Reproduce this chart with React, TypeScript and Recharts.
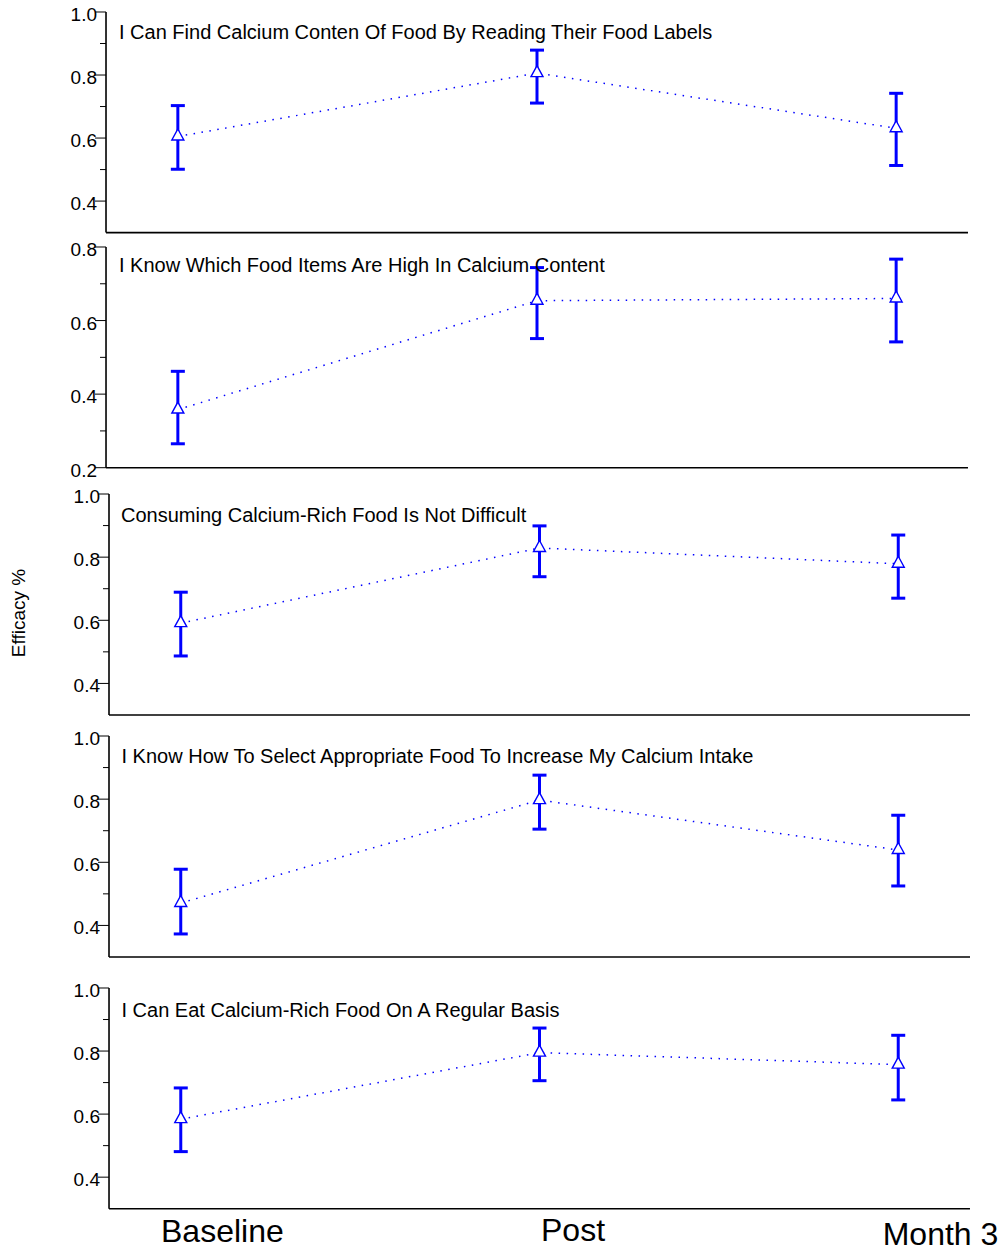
import { ComposedChart, Line, XAxis, YAxis, ErrorBar } from "recharts";

const FONT = "Arial, 'Liberation Sans', Helvetica, sans-serif";
const BLUE = "#0000ff";

// stages along the x axis
const STAGES = ["Baseline", "Post", "Month 3"];
const STAGE_X = [0, 1, 2];
const X_TICKS = [0, 0.4, 0.8, 1.2, 1.6, 2.0];

const TITLES = [
  "I Can Find Calcium Conten Of Food By Reading Their Food Labels",
  "I Know Which Food Items Are High In Calcium Content",
  "Consuming Calcium-Rich Food Is Not Difficult",
  "I Know How To Select Appropriate Food To Increase My Calcium Intake",
  "I Can Eat Calcium-Rich Food On A Regular Basis",
];

// mean, lower and upper bound of each item, per stage
const MEAN_1 = [0.605, 0.806, 0.631];
const LOW_1 = [0.501, 0.711, 0.513];
const HIGH_1 = [0.703, 0.879, 0.742];

const MEAN_2 = [0.358, 0.654, 0.66];
const LOW_2 = [0.265, 0.551, 0.542];
const HIGH_2 = [0.462, 0.744, 0.767];

const MEAN_3 = [0.591, 0.829, 0.779];
const LOW_3 = [0.487, 0.738, 0.67];
const HIGH_3 = [0.689, 0.899, 0.87];

const MEAN_4 = [0.471, 0.797, 0.639];
const LOW_4 = [0.373, 0.705, 0.525];
const HIGH_4 = [0.578, 0.876, 0.749];

const MEAN_5 = [0.584, 0.795, 0.757];
const LOW_5 = [0.481, 0.706, 0.645];
const HIGH_5 = [0.683, 0.873, 0.85];

const TICKS_A = [0.4, 0.5, 0.6, 0.7, 0.8, 0.9, 1.0];
const TICKS_B = [0.2, 0.3, 0.4, 0.5, 0.6, 0.7, 0.8];

const SERIES = [
  [MEAN_1, LOW_1, HIGH_1],
  [MEAN_2, LOW_2, HIGH_2],
  [MEAN_3, LOW_3, HIGH_3],
  [MEAN_4, LOW_4, HIGH_4],
  [MEAN_5, LOW_5, HIGH_5],
];

// plot-area placement of each panel on the page
const PANELS = [
  { top: 11.7, bottom: 232.3, axisX: 106, right: 968, domain: [0.3, 1.0], ticks: TICKS_A, titleX: 119, titleY: 39.3 },
  { top: 247.3, bottom: 468, axisX: 106, right: 968, domain: [0.2, 0.8], ticks: TICKS_B, titleX: 119, titleY: 271.7 },
  { top: 494, bottom: 715, axisX: 109, right: 970, domain: [0.3, 1.0], ticks: TICKS_A, titleX: 121, titleY: 522 },
  { top: 735.7, bottom: 956.7, axisX: 109, right: 970, domain: [0.3, 1.0], ticks: TICKS_A, titleX: 121.5, titleY: 762.7 },
  { top: 988.3, bottom: 1209, axisX: 109, right: 970, domain: [0.3, 1.0], ticks: TICKS_A, titleX: 121.5, titleY: 1016.7 },
];

const STAGE_LABELS = [
  { x: 161, y: 1241.7 },
  { x: 541, y: 1241 },
  { x: 882.7, y: 1245 },
];

const PAD_T = 14;
const PAD_B = 16;

function makeYTick(axisX: number) {
  return (props: any) => {
    const { y, payload } = props;
    const v = payload.value as number;
    const major = Math.round(v * 10) % 2 === 0;
    return (
      <g>
        <line x1={axisX - (major ? 11 : 6)} x2={axisX} y1={y} y2={y} stroke="#000" strokeWidth={1} />
        {major && (
          <text
            x={axisX - 9}
            y={y + 9}
            textAnchor="end"
            fontFamily={FONT}
            fill="#000"
            style={{ fontSize: 19 }}
          >
            {v.toFixed(1)}
          </text>
        )}
      </g>
    );
  };
}

function renderTri(props: any) {
  const { cx, cy, index } = props;
  if (cx == null || cy == null) return <g key={`t${index}`} />;
  const d = `M${cx},${cy - 7.5} L${cx + 6},${cy + 3.5} L${cx - 6},${cy + 3.5} Z`;
  return <path key={`t${index}`} d={d} fill="#fff" stroke={BLUE} strokeWidth={1.4} />;
}

function Panel({ idx }: { idx: number }) {
  const p = PANELS[idx];
  const [mean, low, high] = SERIES[idx];
  const rows = STAGE_X.map((x, i) => ({
    x,
    stage: STAGES[i],
    mean: mean[i],
    err: [mean[i] - low[i], high[i] - mean[i]],
  }));
  const h = p.bottom - p.top + PAD_T + PAD_B;
  return (
    <div style={{ position: "absolute", left: 0, top: p.top - PAD_T }}>
      <ComposedChart
        width={1006}
        height={h}
        data={rows}
        margin={{ top: PAD_T, right: 1006 - p.right, bottom: PAD_B - 1, left: 0 }}
      >
        <XAxis
          type="number"
          dataKey="x"
          domain={[-0.2, 2.2]}
          ticks={X_TICKS}
          allowDataOverflow
          height={1}
          tick={false}
          tickSize={2}
          tickLine={{ stroke: "#000", strokeWidth: 1 }}
          axisLine={{ stroke: "#000", strokeWidth: 1.6 }}
        />
        <YAxis
          type="number"
          width={p.axisX}
          domain={p.domain}
          ticks={p.ticks}
          interval={0}
          allowDataOverflow
          tickLine={false}
          tick={makeYTick(p.axisX)}
          axisLine={{ stroke: "#000", strokeWidth: 1.6 }}
        />
        <Line
          type="linear"
          dataKey="mean"
          stroke={BLUE}
          strokeWidth={1.5}
          strokeDasharray="1.5 6.5"
          dot={renderTri}
          activeDot={false}
          isAnimationActive={false}
        >
          <ErrorBar dataKey="err" width={7} strokeWidth={3} stroke={BLUE} isAnimationActive={false} />
        </Line>
      </ComposedChart>
    </div>
  );
}

export default function App() {
  return (
    <div style={{ position: "absolute", left: 0, top: 0, width: 1006, height: 1253, background: "#fff" }}>
      {PANELS.map((_, i) => (
        <Panel key={i} idx={i} />
      ))}
      <svg
        width={1006}
        height={1253}
        style={{ position: "absolute", left: 0, top: 0, pointerEvents: "none" }}
      >
        {PANELS.map((p, i) => (
          <text key={i} x={p.titleX} y={p.titleY} fontFamily={FONT} fill="#000" style={{ fontSize: 20 }}>
            {TITLES[i]}
          </text>
        ))}
        {STAGES.map((s, i) => (
          <text
            key={s}
            x={STAGE_LABELS[i].x}
            y={STAGE_LABELS[i].y}
            fontFamily={FONT}
            fill="#000"
            style={{ fontSize: 32 }}
          >
            {s}
          </text>
        ))}
        <text
          x={25}
          y={613}
          transform="rotate(-90 25 613)"
          textAnchor="middle"
          fontFamily={FONT}
          fill="#000"
          style={{ fontSize: 19 }}
        >
          Efficacy %
        </text>
      </svg>
    </div>
  );
}
